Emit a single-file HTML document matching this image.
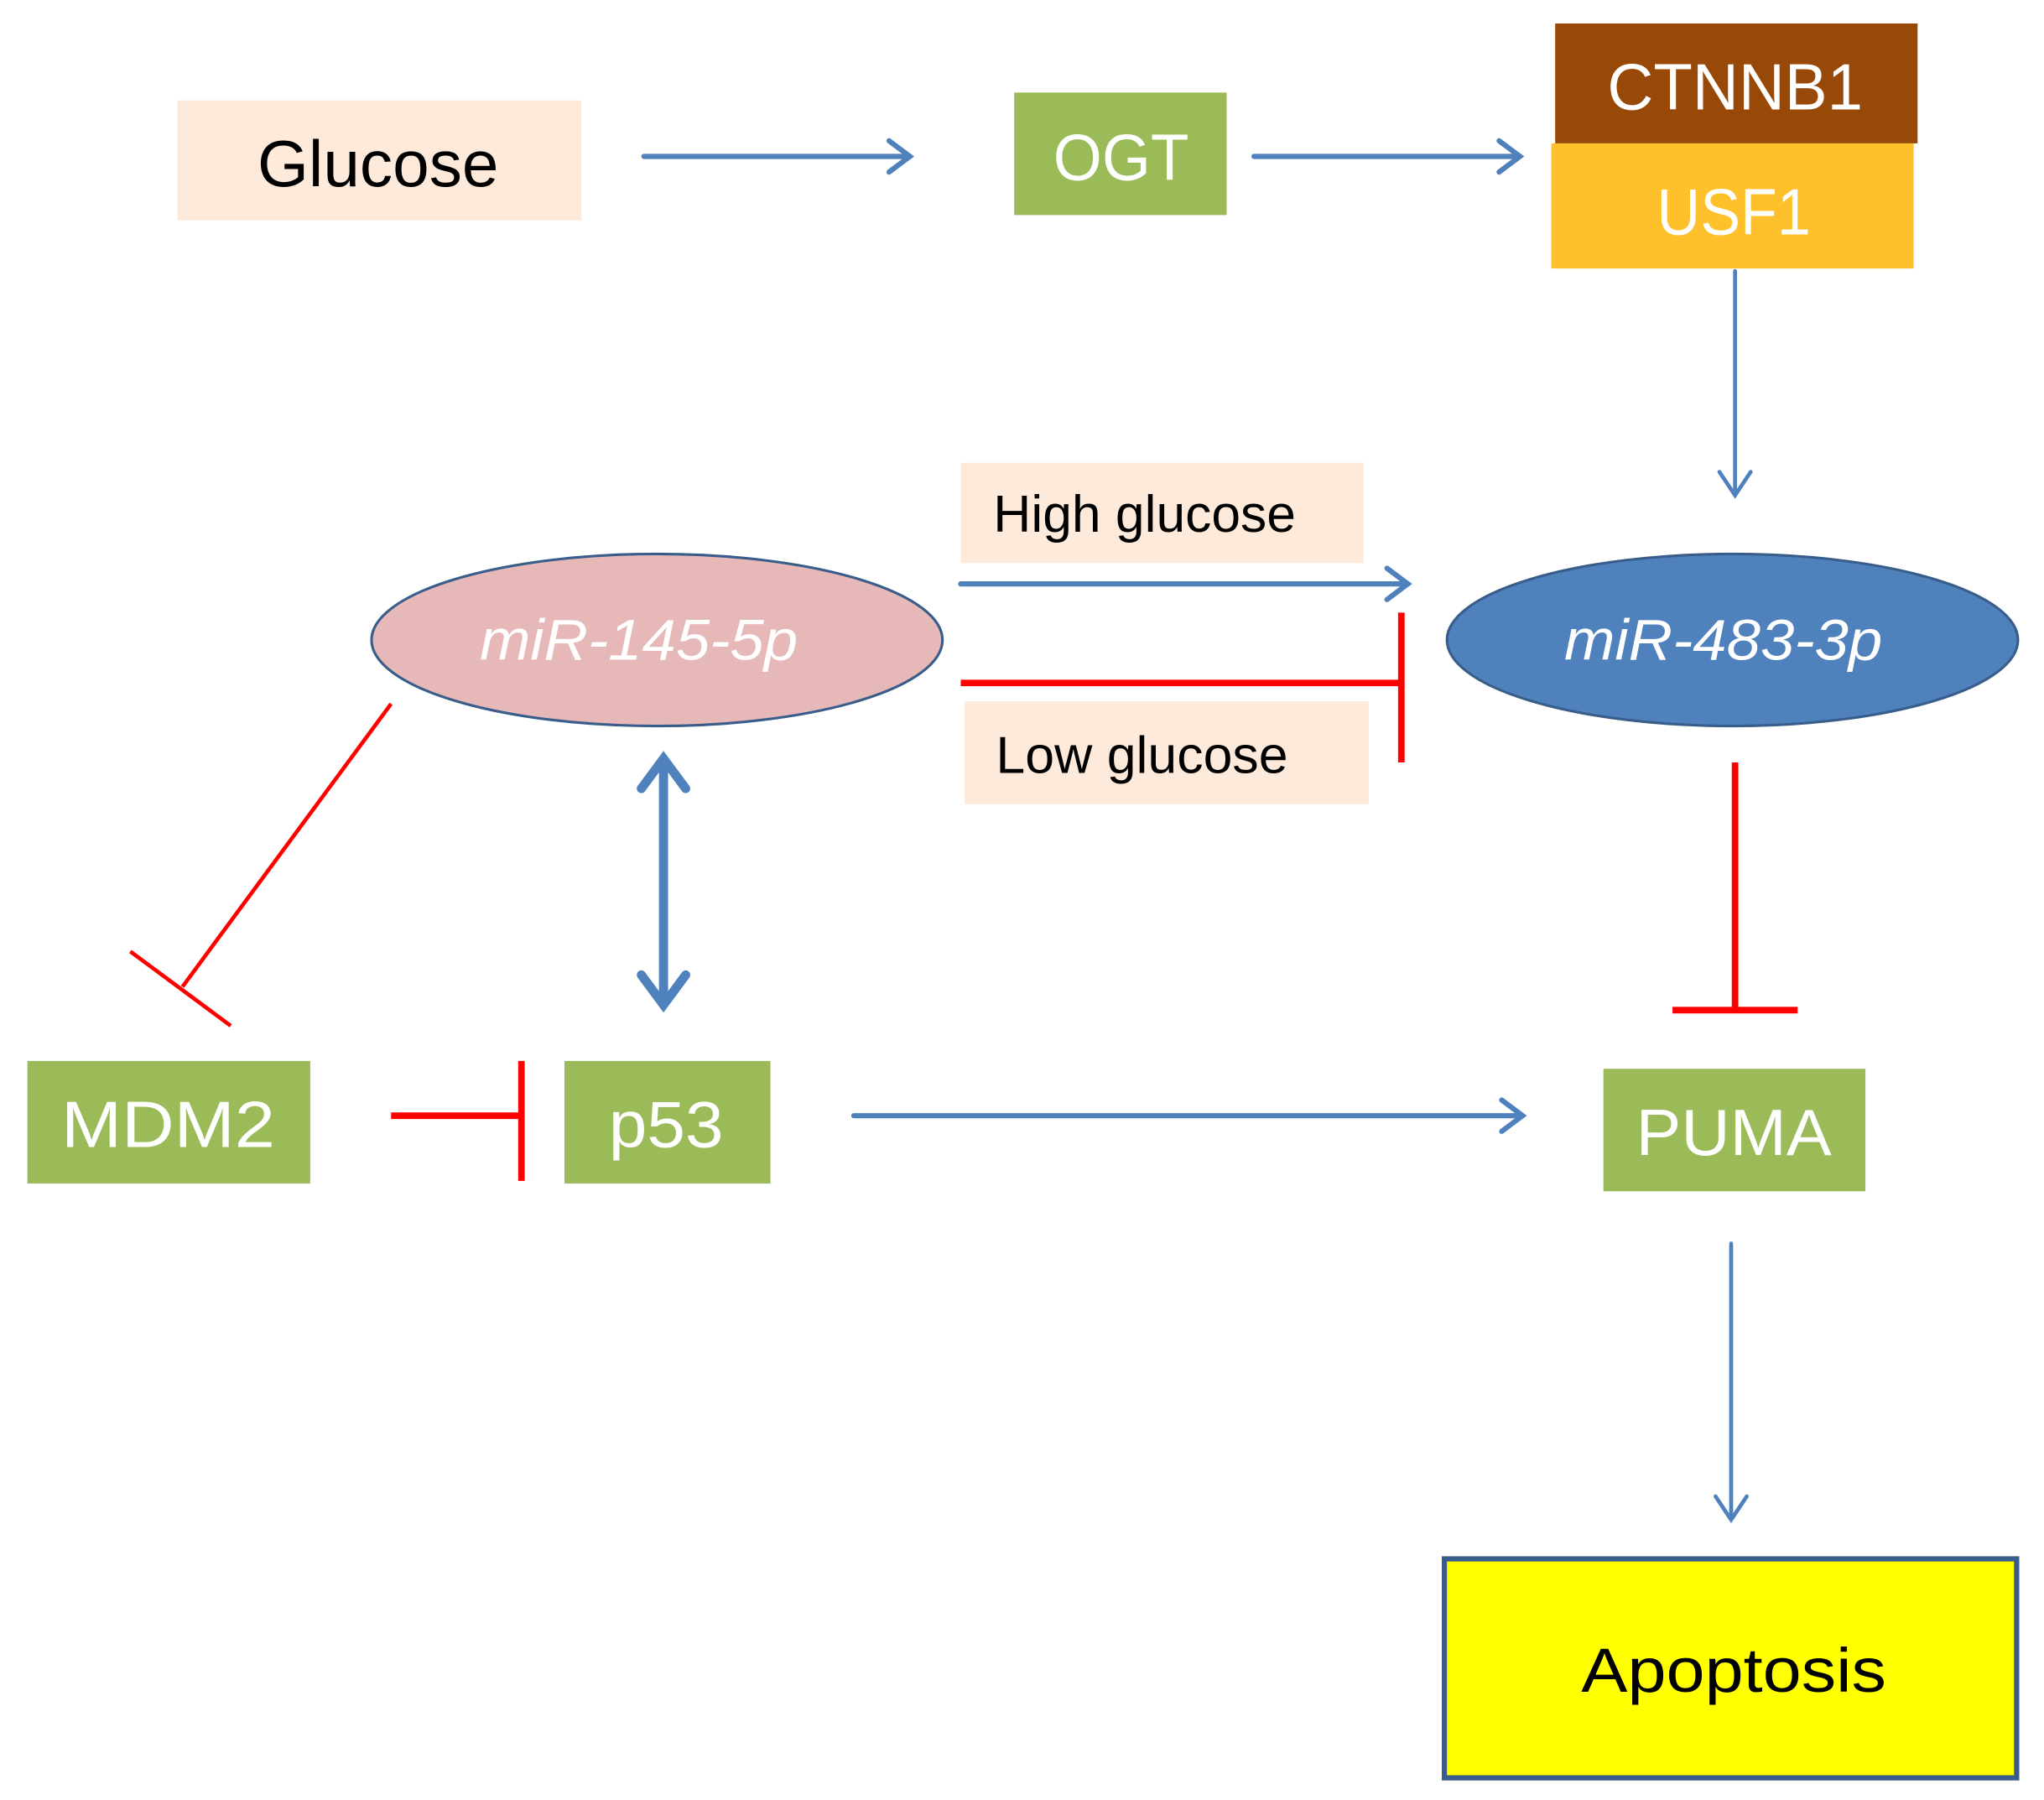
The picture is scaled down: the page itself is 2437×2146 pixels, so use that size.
<!DOCTYPE html>
<html><head><meta charset="utf-8"><style>html,body{margin:0;padding:0;background:#fff}svg{display:block}</style></head>
<body>
<svg width="2437" height="2146" viewBox="0 0 1568 1381" preserveAspectRatio="none" xmlns="http://www.w3.org/2000/svg" font-family="Liberation Sans, sans-serif">
<defs>
<marker id="a" markerWidth="10" markerHeight="10" refX="9" refY="5" orient="auto" markerUnits="userSpaceOnUse" viewBox="0 0 10 10"><path d="M0,0 L9,5 L0,10" fill="none" stroke="#4F81BD" stroke-width="1.5"/></marker>
</defs>
<rect x="136" y="77" width="310" height="92" fill="#FDEADA"/>
<text x="290" y="143" font-size="50" text-anchor="middle" textLength="185" lengthAdjust="spacingAndGlyphs">Glucose</text>
<g stroke="#4F81BD" stroke-width="4" fill="none" stroke-linecap="round">
<line x1="494" y1="120" x2="698" y2="120"/><polyline points="682,108 698,120 682,132"/>
<line x1="962" y1="120" x2="1166" y2="120"/><polyline points="1150,108 1166,120 1150,132"/>
<line x1="737" y1="448" x2="1080" y2="448"/><polyline points="1064,436 1080,448 1064,460"/>
<line x1="655" y1="856" x2="1168" y2="856"/><polyline points="1152,844 1168,856 1152,868"/>
</g>
<g stroke="#4F81BD" stroke-width="3" fill="none" stroke-linecap="round">
<line x1="1331" y1="208" x2="1331" y2="380"/><polyline points="1319,362 1331,380 1343,362"/>
<line x1="1328" y1="954" x2="1328" y2="1166"/><polyline points="1316,1148 1328,1166 1340,1148"/>
</g>
<g stroke="#4F81BD" stroke-width="7" fill="none" stroke-linecap="round">
<line x1="509" y1="585" x2="509" y2="768"/><polyline points="492,605 509,582 526,605"/><polyline points="492,748 509,771 526,748"/>
</g>
<rect x="778" y="71" width="163" height="94" fill="#9BBB59"/>
<text x="860" y="138" font-size="50" fill="#fff" text-anchor="middle" textLength="104" lengthAdjust="spacingAndGlyphs">OGT</text>
<rect x="1193" y="18" width="278" height="92" fill="#984807"/>
<text x="1331" y="84" font-size="50" fill="#fff" text-anchor="middle" textLength="196" lengthAdjust="spacingAndGlyphs">CTNNB1</text>
<rect x="1190" y="110" width="278" height="96" fill="#FFC12B"/>
<text x="1330" y="180" font-size="50" fill="#fff" text-anchor="middle" textLength="118" lengthAdjust="spacingAndGlyphs">USF1</text>
<rect x="737" y="355" width="309" height="77" fill="#FDEADA"/>
<text x="878" y="408" font-size="40" text-anchor="middle" textLength="232" lengthAdjust="spacingAndGlyphs">High glucose</text>
<rect x="740" y="538" width="310" height="79" fill="#FDEADA"/>
<text x="876" y="593" font-size="40" text-anchor="middle" textLength="224" lengthAdjust="spacingAndGlyphs">Low glucose</text>
<ellipse cx="504" cy="491" rx="219" ry="66" fill="#E6B9B8" stroke="#385D8A" stroke-width="2"/>
<text x="490" y="506" font-size="44" font-style="italic" fill="#fff" text-anchor="middle" textLength="244" lengthAdjust="spacingAndGlyphs">miR-145-5p</text>
<ellipse cx="1329" cy="491" rx="219" ry="66" fill="#4F81BD" stroke="#385D8A" stroke-width="2"/>
<text x="1322" y="506" font-size="44" font-style="italic" fill="#fff" text-anchor="middle" textLength="244" lengthAdjust="spacingAndGlyphs">miR-483-3p</text>
<g stroke="#FF0000" stroke-width="5" fill="none">
<line x1="737" y1="524" x2="1075" y2="524"/><line x1="1075" y1="470" x2="1075" y2="585"/>
<line x1="1331" y1="585" x2="1331" y2="775"/><line x1="1283" y1="775" x2="1379" y2="775"/>
<line x1="300" y1="856" x2="400" y2="856"/><line x1="400" y1="814" x2="400" y2="906"/>
</g>
<g stroke="#FF0000" stroke-width="3" fill="none">
<line x1="300" y1="540" x2="140" y2="757"/><line x1="100" y1="730" x2="177" y2="787"/>
</g>
<rect x="21" y="814" width="217" height="94" fill="#9BBB59"/>
<text x="129" y="880" font-size="50" fill="#fff" text-anchor="middle" textLength="164" lengthAdjust="spacingAndGlyphs">MDM2</text>
<rect x="433" y="814" width="158" height="94" fill="#9BBB59"/>
<text x="511" y="880" font-size="50" fill="#fff" text-anchor="middle" textLength="88" lengthAdjust="spacingAndGlyphs">p53</text>
<rect x="1230" y="820" width="201" height="94" fill="#9BBB59"/>
<text x="1330" y="886" font-size="50" fill="#fff" text-anchor="middle" textLength="150" lengthAdjust="spacingAndGlyphs">PUMA</text>
<rect x="1108" y="1196" width="439" height="168" fill="#FFFF00" stroke="#385D8A" stroke-width="4"/>
<text x="1330" y="1298" font-size="48" text-anchor="middle" textLength="234" lengthAdjust="spacingAndGlyphs">Apoptosis</text>
</svg>
</body></html>
